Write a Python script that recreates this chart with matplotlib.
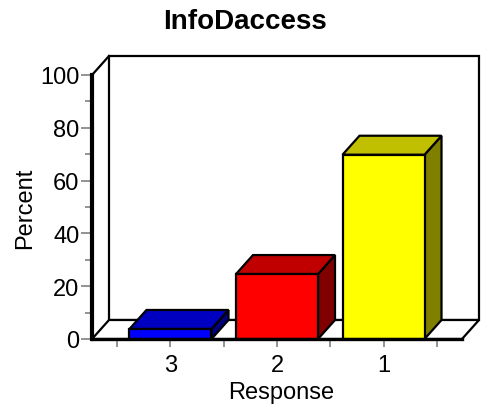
import matplotlib.pyplot as plt
from matplotlib.patches import Polygon, Rectangle

plt.rcParams['font.family'] = ['Liberation Sans', 'DejaVu Sans']

# data
positions = [1, 2, 3]
tick_labels = ['3', '2', '1']
percent = [3.8, 24.6, 69.8]
front_colors = ['#0000ff', '#ff0000', '#ffff00']
top_colors = ['#0000c0', '#c00000', '#c0c000']
side_colors = ['#000080', '#800000', '#808000']

W, H = 488, 410
fig = plt.figure(figsize=(W / 100, H / 100), dpi=100)
# front plane of the box in pixels: x 92..462, y 76..340
ax = fig.add_axes([92 / W, (H - 340) / H, (462 - 92) / W, (340 - 76) / H])
x0, x1 = 0.263, 3.737
ax.set_xlim(x0, x1)
ax.set_ylim(0, 100)

# depth offset (about 17 px right, 19 px up) in data units
px_x = (x1 - x0) / 370
px_y = 100 / 264
dx, dy = 17 * px_x, 19 * px_y

lw = 1.6
# back wall
ax.add_patch(Rectangle((x0 + dx, dy), x1 - x0, 100, facecolor='white',
                       edgecolor='black', lw=lw, clip_on=False, zorder=1))
# floor
ax.add_patch(Polygon([(x0, 0), (x1, 0), (x1 + dx, dy), (x0 + dx, dy)],
                     closed=True, facecolor='white', edgecolor='black',
                     lw=lw, clip_on=False, zorder=2))
# left wall top edge
ax.plot([x0, x0 + dx], [100, 100 + dy], color='black', lw=lw,
        clip_on=False, zorder=2)

# 3d bars
bw = 0.77
for x, h, fc, tc, sc in zip(positions, percent, front_colors, top_colors, side_colors):
    xl, xr = x - bw / 2, x + bw / 2
    ax.add_patch(Polygon([(xr, 0), (xr + dx, dy), (xr + dx, h + dy), (xr, h)],
                         closed=True, facecolor=sc, edgecolor='black', lw=lw,
                         clip_on=False, zorder=3))
    ax.add_patch(Polygon([(xl, h), (xr, h), (xr + dx, h + dy), (xl + dx, h + dy)],
                         closed=True, facecolor=tc, edgecolor='black', lw=lw,
                         clip_on=False, zorder=3))
    ax.add_patch(Rectangle((xl, 0), bw, h, facecolor=fc, edgecolor='black',
                           lw=lw, clip_on=False, zorder=4))

# axes styling
for s in ['top', 'right']:
    ax.spines[s].set_visible(False)
ax.spines['left'].set_linewidth(3)
ax.spines['bottom'].set_linewidth(2.4)
ax.spines['left'].set_zorder(5)
ax.spines['bottom'].set_zorder(5)

ax.set_xticks(positions)
ax.set_xticklabels(tick_labels)
ax.set_xticks([0.5, 1.5, 2.5, 3.5], minor=True)
ax.set_yticks(range(0, 101, 20))
ax.set_yticks(range(10, 100, 20), minor=True)
ax.tick_params(axis='x', which='both', length=6, width=1.2, color='#808080',
               labelsize=17, pad=5)
ax.tick_params(axis='y', which='major', length=8, width=1.2, color='#808080',
               labelsize=17, pad=1)
ax.tick_params(axis='y', which='minor', length=5, width=1.2, color='#808080')

ax.set_xlabel('Response', fontsize=17)
ax.xaxis.set_label_coords(0.51, -0.16)
ax.set_ylabel('Percent', fontsize=17)
ax.yaxis.set_label_coords(-0.15, 0.5)

fig.text(245 / W, 1 - 22 / H, 'InfoDaccess', ha='center', va='center',
         fontsize=20, fontweight='bold')

fig.savefig('out.png', dpi=100)
